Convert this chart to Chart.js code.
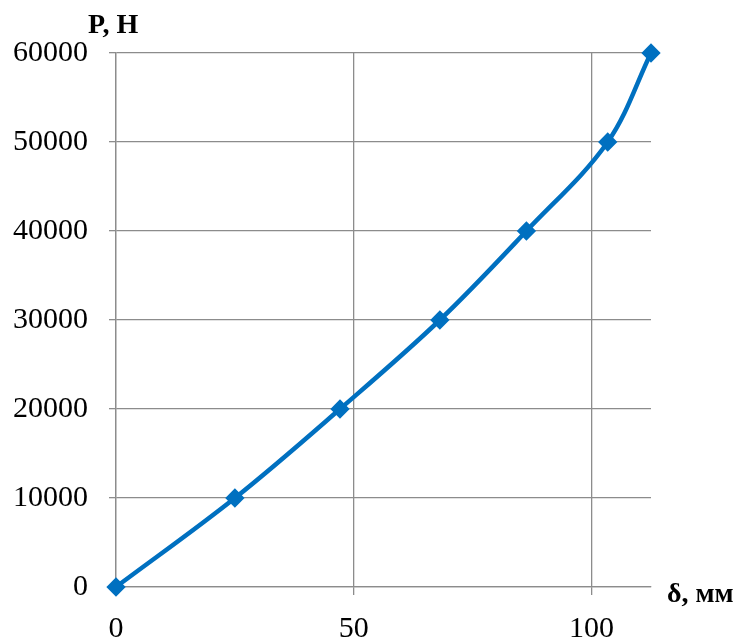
<!DOCTYPE html>
<html>
<head>
<meta charset="utf-8">
<script src="https://cdn.jsdelivr.net/npm/chart.js@4"></script>
<style>
  html, body { margin: 0; padding: 0; background: #fff; }
  #wrap { width: 754px; height: 643px; position: relative; }
</style>
</head>
<body>
<div id="wrap"><canvas id="chart" width="754" height="643"></canvas></div>
<script>
// --- Data ---
const deflection = [0, 25, 47.1, 68.1, 86.3, 103.4, 112.5];   // δ, мм
const force = [0, 10000, 20000, 30000, 40000, 50000, 60000];   // P, Н
const xTicks = [0, 50, 100];
const yTicks = [0, 10000, 20000, 30000, 40000, 50000, 60000];
const xMax = 112.5;

const FONT = "'Liberation Serif', 'Times New Roman', serif";
const GRID = '#8c8c8c';
const LINE = '#0070c0';

// axis titles drawn next to the plot area
const axisTitles = {
  id: 'axisTitles',
  afterDraw(chart) {
    const { ctx, chartArea } = chart;
    ctx.save();
    ctx.fillStyle = '#000';
    ctx.font = 'bold 28px ' + FONT;
    ctx.textBaseline = 'alphabetic';
    ctx.textAlign = 'left';
    ctx.fillText('P, H', chartArea.left - 28, chartArea.top - 20);
    ctx.fillText('δ, мм', chartArea.right + 16, chartArea.bottom + 15);
    ctx.restore();
  },
};

new Chart(document.getElementById('chart').getContext('2d'), {
  type: 'line',
  data: {
    datasets: [{
      data: deflection.map((x, i) => ({ x, y: force[i] })),
      borderColor: LINE,
      backgroundColor: LINE,
      borderWidth: 4.5,
      tension: 0.35,
      pointStyle: 'rectRot',
      pointRadius: 6.5,
      pointBackgroundColor: LINE,
      pointBorderColor: LINE,
      fill: false,
      clip: false,
    }],
  },
  options: {
    responsive: false,
    animation: false,
    events: [],
    layout: { padding: { left: 0, right: 103, top: 53, bottom: 0 } },
    plugins: { legend: { display: false }, tooltip: { enabled: false } },
    scales: {
      x: {
        type: 'linear',
        min: 0,
        max: xMax,
        afterBuildTicks: (s) => { s.ticks = xTicks.map(v => ({ value: v })); },
        afterFit: (s) => { s.height = 56; },
        grid: { color: GRID, lineWidth: 1.3, tickLength: 8, drawOnChartArea: true },
        border: { color: GRID, width: 1.3 },
        ticks: { color: '#000', font: { family: FONT, size: 30 }, padding: 16, maxRotation: 0 },
      },
      y: {
        min: 0,
        max: 60000,
        afterBuildTicks: (s) => { s.ticks = yTicks.map(v => ({ value: v })); },
        afterFit: (s) => { s.width = 116; },
        grid: { color: GRID, lineWidth: 1.3, tickLength: 7 },
        border: { color: GRID, width: 1.3 },
        ticks: { color: '#000', font: { family: FONT, size: 30 }, padding: 21, callback: (v) => String(v) },
      },
    },
  },
  plugins: [axisTitles],
});
</script>
</body>
</html>
